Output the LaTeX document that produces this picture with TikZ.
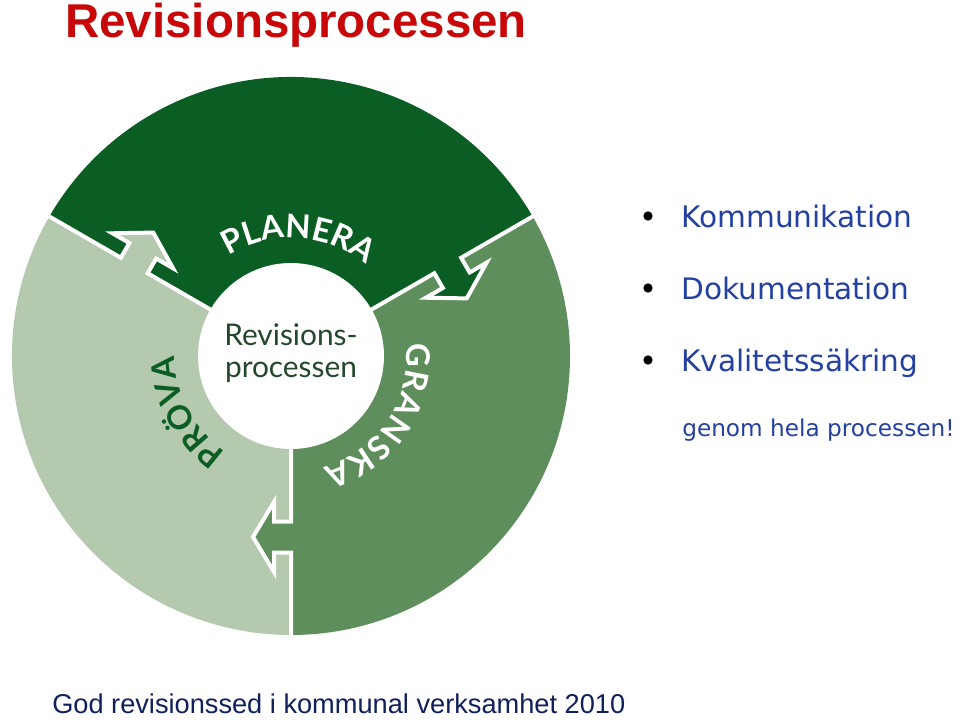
\documentclass[tikz,border=0pt]{standalone}
\usepackage{fontspec}
\usepackage{xcolor}
\usetikzlibrary{decorations.text}
\setmainfont{Liberation Sans}
\newfontfamily\listfont{DejaVu Sans}
\newfontfamily\latofont{Lato}
\newcommand\sectorfont{\latofont\bfseries\fontsize{24.5}{25}\selectfont}
\definecolor{planera}{RGB}{11,94,35}
\definecolor{granska}{RGB}{94,142,91}
\definecolor{prova}{RGB}{180,201,173}
\definecolor{titlered}{RGB}{200,8,8}
\definecolor{listblue}{RGB}{36,64,160}
\definecolor{footblue}{RGB}{16,32,90}
\definecolor{hubgreen}{RGB}{35,72,45}

\begin{document}
\begin{tikzpicture}[x=0.75pt,y=0.75pt]
  \tikzstyle{item}=[anchor=base west,inner sep=0pt,text=listblue,font=\listfont\fontsize{22.2}{26}\selectfont]
  \tikzstyle{dot}=[circle,fill=black,inner sep=0pt,minimum size=7pt]
  \tikzstyle{seam}=[white,line width=3pt,line join=miter]
  \useasboundingbox (0,0) rectangle (960,719);
  \node[anchor=base west,inner sep=0pt,text=titlered,font=\bfseries\fontsize{35.6}{40}\selectfont] (title) at (65,681) {Revisionsprocessen};
  \begin{scope}[shift={(291,363)}]
    \fill[planera] (0,0) -- (30:279) arc[start angle=30,end angle=150,radius=279] -- cycle;
    \fill[prova] (0,0) -- (150:279) arc[start angle=150,end angle=270,radius=279] -- cycle;
    \fill[granska] (0,0) -- (270:279) arc[start angle=270,end angle=390,radius=279] -- cycle;
    \foreach \ang/\col in {150/prova,30/planera,270/granska} {
      \begin{scope}[rotate=\ang]
        \fill[\col] (165.5,1) -- (165.5,-17) -- (146,-17) -- (181,-38) -- (216,-17) -- (196.5,-17) -- (196.5,1) -- cycle;
        \draw[seam] (93,0) -- (165.5,0) -- (165.5,-17) -- (146,-17) -- (181,-38) -- (216,-17) -- (196.5,-17) -- (196.5,0) -- (281,0);
      \end{scope}
    }
    \fill[white] (0,0) circle[radius=93];
    \node[align=center,text=hubgreen,font=\latofont\fontsize{22.4}{24}\selectfont] (hub) at (0,3) {Revisions-\\processen};
    \path[decorate,decoration={text along path,text={|\sectorfont|PLANERA},text align=fit to path,text color=white}] (122:118) arc[start angle=122,end angle=53,radius=118];
    \path[decorate,decoration={text along path,text={|\sectorfont|GRANSKA},text align=fit to path,text color=white}] (6:116) arc[start angle=6,end angle=-74,radius=116];
    \path[decorate,decoration={text along path,text={|\sectorfont|PRÖVA},text align=fit to path,text color=planera}] (236:116) arc[start angle=236,end angle=180.5,radius=116];
  \end{scope}
  \node[dot] (d1) at (648,503) {};
  \node[dot] (d2) at (648,431) {};
  \node[dot] (d3) at (648,359) {};
  \node[item] (k1) at (681,492) {Kommunikation};
  \node[item] (k2) at (681,420) {Dokumentation};
  \node[item] (k3) at (681,348) {Kvalitetssäkring};
  \node[item,font=\listfont\fontsize{17.4}{21}\selectfont] (note) at (682,283) {genom hela processen!};
  \node[anchor=base west,inner sep=0pt,text=footblue,font=\fontsize{20.4}{24}\selectfont] (foot) at (52,6) {God revisionssed i kommunal verksamhet 2010};
\end{tikzpicture}
\end{document}
